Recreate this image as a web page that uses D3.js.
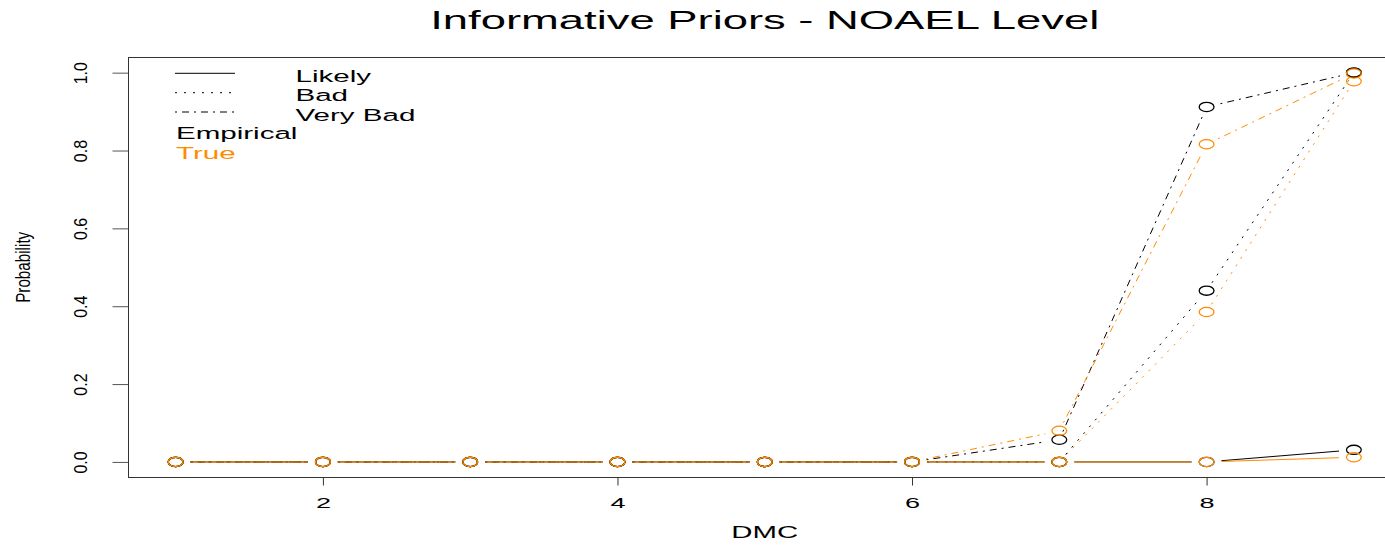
<!DOCTYPE html>
<html>
<head>
<meta charset="utf-8">
<script src="https://cdn.jsdelivr.net/npm/d3@7"></script>
<style>
  html, body { margin: 0; padding: 0; background: #fff; }
  svg { display: block; }
  text { font-family: "Liberation Sans", Arial, Helvetica, sans-serif; fill: #000; }
</style>
</head>
<body>
<div id="chart"></div>
<script>
/* Informative priors, NOAEL level: empirical vs true probability per DMC */

const dmc = [1, 2, 3, 4, 5, 6, 7, 8, 9];

// empirical (black)
const empLikely   = [0, 0, 0, 0, 0, 0, 0,     0,     0.031];
const empBad      = [0, 0, 0, 0, 0, 0, 0,     0.44,  1.0];
const empVeryBad  = [0, 0, 0, 0, 0, 0, 0.057, 0.912, 1.0];

// true (orange)
const trueLikely  = [0, 0, 0, 0, 0, 0, 0,     0,     0.012];
const trueBad     = [0, 0, 0, 0, 0, 0, 0,     0.385, 0.978];
const trueVeryBad = [0, 0, 0, 0, 0, 0, 0.08,  0.816, 0.998];

const xTicks = [2, 4, 6, 8];
const yTicks = [0, 0.2, 0.4, 0.6, 0.8, 1.0];

const priorNames = ["Likely", "Bad", "Very Bad"];
const sourceNames = ["Empirical", "True"];

const W = 1385, H = 546;
const SX = 1.78;           // the device stretches horizontal text
const SXR = 1.2;           // and rotated text a little
const ORANGE = "#FF8C00";
const dashes = { "Likely": null, "Bad": "2,7", "Very Bad": "2,5,7,5" };

const svg = d3.select("#chart").append("svg")
  .attr("width", W).attr("height", H);

const x = d3.scaleLinear().domain([0.68, 9.32]).range([128.5, 1401]);
const y = d3.scaleLinear().domain([-0.04, 1.04]).range([477.5, 57.1]);

// stretched horizontal text helper
function hText(g, str, px, py, size, anchor, color) {
  return g.append("text")
    .attr("transform", `translate(${px},${py}) scale(${SX},1)`)
    .attr("text-anchor", anchor || "start")
    .attr("font-size", size)
    .style("fill", color || "#000")
    .text(str);
}

// title + axis titles
hText(svg, "Informative Priors - NOAEL Level", (x.range()[0] + x.range()[1]) / 2, 29, 25.5, "middle");
hText(svg, "DMC", (x.range()[0] + x.range()[1]) / 2, 538, 16.5, "middle");
svg.append("text")
  .attr("transform", `translate(30,${(y.range()[0] + y.range()[1]) / 2}) scale(1.3,1) rotate(-90)`)
  .attr("text-anchor", "middle")
  .attr("font-size", 15.5)
  .attr("textLength", 71)
  .attr("lengthAdjust", "spacingAndGlyphs")
  .text("Probability");

// axes
const gx = svg.append("g")
  .attr("transform", `translate(0,${y.range()[0]})`)
  .call(d3.axisBottom(x).tickValues(xTicks).tickSize(8).tickSizeOuter(0).tickFormat(d3.format("d")));
gx.select(".domain").remove();
gx.selectAll("line").attr("stroke", "#333");
gx.selectAll("text")
  .attr("y", null).attr("dy", null)
  .attr("transform", `translate(0,30.5) scale(${SX},1)`)
  .attr("font-size", 15.2)
  .attr("font-family", null)
  .style("fill", "#000");

const gy = svg.append("g")
  .attr("transform", `translate(${x.range()[0]},0)`)
  .call(d3.axisLeft(y).tickValues(yTicks).tickSize(16).tickSizeOuter(0).tickFormat(d3.format(".1f")));
gy.select(".domain").remove();
gy.selectAll("line").attr("stroke", "#555");
gy.selectAll("text")
  .attr("x", null).attr("dy", null)
  .attr("transform", `translate(-41.5,0) scale(${SXR},1) rotate(-90)`)
  .attr("text-anchor", "middle")
  .attr("font-size", 16)
  .attr("font-family", null)
  .style("fill", "#000");

// plot box (right edge falls outside the picture)
svg.append("rect")
  .attr("x", x.range()[0]).attr("y", 57.5)
  .attr("width", x.range()[1] - x.range()[0])
  .attr("height", y.range()[0] - 57.5)
  .attr("fill", "none").attr("stroke", "#333").attr("stroke-width", 1);

// series, drawn in R order: empirical then true for each prior
const series = [
  { prior: "Likely",   color: "#000", values: empLikely },
  { prior: "Likely",   color: ORANGE, values: trueLikely },
  { prior: "Bad",      color: "#000", values: empBad },
  { prior: "Bad",      color: ORANGE, values: trueBad },
  { prior: "Very Bad", color: "#000", values: empVeryBad },
  { prior: "Very Bad", color: ORANGE, values: trueVeryBad }
];

const GAP = 8.4;  // gap round points (type = "b"), in unstretched px
const plot = svg.append("g");

series.forEach(s => {
  const pts = dmc.map((d, i) => [x(d), y(s.values[i])]);
  const segs = d3.pairs(pts).map(([a, b]) => {
    const dx = b[0] - a[0], dy = b[1] - a[1];
    const len = Math.hypot(dx / SX, dy);
    const t = GAP / len;
    return [[a[0] + dx * t, a[1] + dy * t], [b[0] - dx * t, b[1] - dy * t]];
  });
  plot.append("g").selectAll("line")
    .data(segs)
    .join("line")
    .attr("x1", d => d[0][0]).attr("y1", d => d[0][1])
    .attr("x2", d => d[1][0]).attr("y2", d => d[1][1])
    .attr("stroke", s.color)
    .attr("stroke-width", 1)
    .attr("stroke-dasharray", dashes[s.prior]);
  plot.append("g").selectAll("ellipse")
    .data(pts)
    .join("ellipse")
    .attr("cx", d => d[0]).attr("cy", d => d[1])
    .attr("rx", 7.4).attr("ry", 4.6)
    .attr("fill", "none")
    .attr("stroke", s.color)
    .attr("stroke-width", 1.3);
});

// legend
const leg = svg.append("g");
const legLineY = [73.3, 92.7, 112];
priorNames.forEach((p, i) => {
  leg.append("line")
    .attr("x1", 175).attr("x2", 235)
    .attr("y1", legLineY[i]).attr("y2", legLineY[i])
    .attr("stroke", "#000").attr("stroke-width", 1)
    .attr("stroke-dasharray", dashes[p]);
  hText(leg, p, 295.5, legLineY[i] + 8.5, 16.6, "start");
});
sourceNames.forEach((n, i) => {
  hText(leg, n, 176, 139.3 + i * 19.8, 16.6, "start", i === 0 ? "#000" : ORANGE);
});
</script>
</body>
</html>
